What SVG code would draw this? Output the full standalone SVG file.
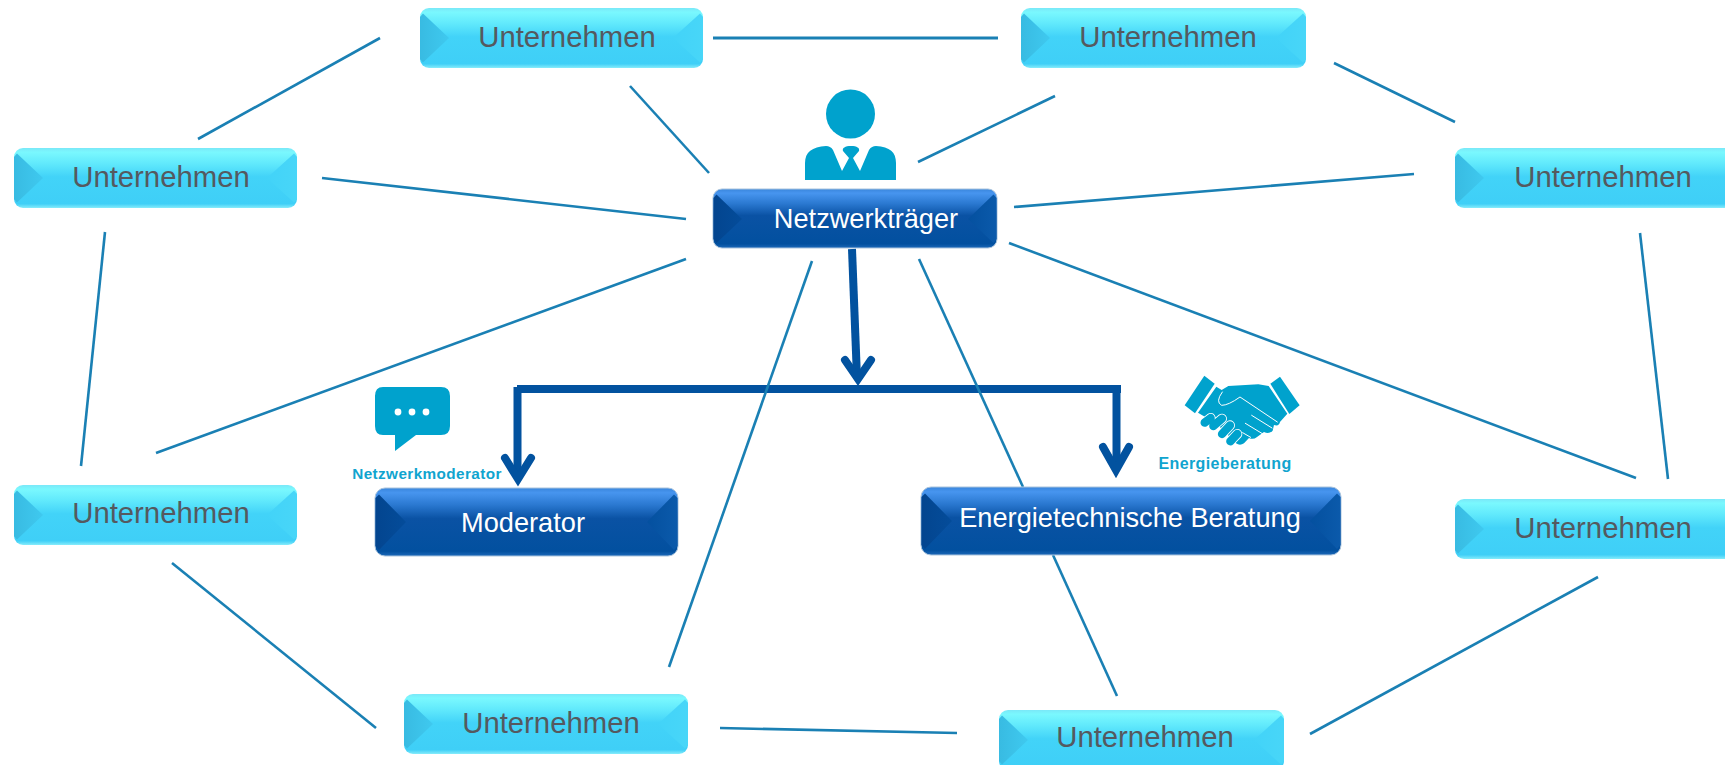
<svg xmlns="http://www.w3.org/2000/svg" width="1725" height="765" viewBox="0 0 1725 765">
<style>
text{font-family:"Liberation Sans",Arial,sans-serif;text-anchor:middle}
.ul{font-size:29.300px;fill:#55595f}
.wl{font-size:27.200px;fill:#fff}
.cap{font-weight:700;fill:#10a4cf}
.c{stroke:#1a80b4;stroke-width:2.600;fill:none}
.t{stroke:#02529f;stroke-width:8;fill:none}
.h{stroke:#02529f;stroke-width:8;stroke-linecap:round;stroke-linejoin:miter;stroke-miterlimit:6;fill:none}
.ic{fill:#00a2cd}
.bl{fill:url(#bl)}
.br{fill:url(#br)}
.dl{fill:url(#dl)}
.dr{fill:url(#dr)}
.lb{fill:url(#lt)}
.db{fill:url(#dk);stroke:#a9c3dc;stroke-width:1}
</style>
<defs>
<linearGradient id="lt" x1="0" y1="0" x2="0" y2="1"><stop offset="0" stop-color="#7ae8f8"/><stop offset=".07" stop-color="#7af8fe"/><stop offset=".25" stop-color="#62eafc"/><stop offset=".48" stop-color="#42d3f8"/><stop offset=".93" stop-color="#3fcff7"/><stop offset="1" stop-color="#86ecfb"/></linearGradient>
<linearGradient id="dk" x1="0" y1="0" x2="0" y2="1"><stop offset="0" stop-color="#3a86dc"/><stop offset=".07" stop-color="#4795ef"/><stop offset=".25" stop-color="#2a78d0"/><stop offset=".45" stop-color="#0a52a4"/><stop offset=".93" stop-color="#02509f"/><stop offset="1" stop-color="#1c68b8"/></linearGradient>
<linearGradient id="bl" x1="0" y1="0" x2="1" y2="0"><stop offset="0" stop-color="#38bbe2"/><stop offset="1" stop-color="#3fc9ef"/></linearGradient>
<linearGradient id="br" x1="0" y1="0" x2="1" y2="0"><stop offset="0" stop-color="#42d3f8"/><stop offset="1" stop-color="#48d6f8"/></linearGradient>
<linearGradient id="dl" x1="0" y1="0" x2="1" y2="0"><stop offset="0" stop-color="#03458f"/><stop offset="1" stop-color="#044c9a"/></linearGradient>
<linearGradient id="dr" x1="0" y1="0" x2="1" y2="0"><stop offset="0" stop-color="#04509f"/><stop offset="1" stop-color="#0b5aab"/></linearGradient>
</defs>
<g id="connectors">
<path class="t" d="M852 249L857 378"/>
<path class="t" d="M517 389H1121"/>
<path class="t" d="M517.500 387V478"/>
<path class="t" d="M1116.500 389V468"/>
<path class="h" d="M845 360L858 379L871 360"/>
<path class="h" d="M505 458L518 479L531 458"/>
<path class="h" d="M1103 447L1116 470L1129 447"/>
<line class="c" x1="713" y1="38" x2="998" y2="38" style="stroke-width:3"/>
<line class="c" x1="380" y1="38" x2="198" y2="139"/>
<line class="c" x1="630" y1="86" x2="709" y2="173"/>
<line class="c" x1="1055" y1="96" x2="918" y2="162"/>
<line class="c" x1="1334" y1="63" x2="1455" y2="122"/>
<line class="c" x1="322" y1="178" x2="686" y2="219"/>
<line class="c" x1="1014" y1="207" x2="1414" y2="174"/>
<line class="c" x1="105" y1="232" x2="81" y2="466"/>
<line class="c" x1="1640" y1="233" x2="1668" y2="479"/>
<line class="c" x1="686" y1="259" x2="156" y2="453"/>
<line class="c" x1="1009" y1="243" x2="1636" y2="478"/>
<line class="c" x1="812" y1="261" x2="669" y2="667"/>
<line class="c" x1="919" y1="259" x2="1023" y2="487"/>
<line class="c" x1="1053" y1="555" x2="1117" y2="696"/>
<line class="c" x1="172" y1="563" x2="376" y2="728"/>
<line class="c" x1="720" y1="728" x2="957" y2="733"/>
<line class="c" x1="1310" y1="734" x2="1598" y2="577"/>
</g>
<g id="u1"><rect class="lb" x="420" y="8" width="283" height="60" rx="9"/><path class="bl" d="M420 17L423 13.500L449 38L423 62.500L420 59Z"/><path class="br" d="M703 17L700 13.500L673 38L700 62.500L703 59Z"/><text class="ul" x="567" y="47">Unternehmen</text></g>
<g id="u2"><rect class="lb" x="1021" y="8" width="285" height="60" rx="9"/><path class="bl" d="M1021 17L1024 13.500L1050 38L1024 62.500L1021 59Z"/><path class="br" d="M1306 17L1303 13.500L1276 38L1303 62.500L1306 59Z"/><text class="ul" x="1168" y="47">Unternehmen</text></g>
<g id="u3"><rect class="lb" x="14" y="148" width="283" height="60" rx="9"/><path class="bl" d="M14 157L17 153.500L43 178L17 202.500L14 199Z"/><path class="br" d="M297 157L294 153.500L267 178L294 202.500L297 199Z"/><text class="ul" x="161" y="187">Unternehmen</text></g>
<g id="u4"><rect class="lb" x="1455" y="148" width="285" height="60" rx="9"/><path class="bl" d="M1455 157L1458 153.500L1484 178L1458 202.500L1455 199Z"/><text class="ul" x="1603" y="187">Unternehmen</text></g>
<g id="u5"><rect class="lb" x="14" y="485" width="283" height="60" rx="9"/><path class="bl" d="M14 494L17 490.500L43 515L17 539.500L14 536Z"/><path class="br" d="M297 494L294 490.500L267 515L294 539.500L297 536Z"/><text class="ul" x="161" y="523">Unternehmen</text></g>
<g id="u6"><rect class="lb" x="1455" y="499" width="285" height="60" rx="9"/><path class="bl" d="M1455 508L1458 504.500L1484 529L1458 553.500L1455 550Z"/><text class="ul" x="1603" y="538">Unternehmen</text></g>
<g id="u7"><rect class="lb" x="404" y="694" width="284" height="60" rx="9"/><path class="bl" d="M404 703L407 699.500L433 724L407 748.500L404 745Z"/><path class="br" d="M688 703L685 699.500L658 724L685 748.500L688 745Z"/><text class="ul" x="551" y="733">Unternehmen</text></g>
<g id="u8"><rect class="lb" x="999" y="710" width="285" height="60" rx="9"/><path class="bl" d="M999 719L1002 715.500L1028 740L1002 764.500L999 761Z"/><path class="br" d="M1284 719L1281 715.500L1254 740L1281 764.500L1284 761Z"/><text class="ul" x="1145" y="747">Unternehmen</text></g>
<g id="netzwerktraeger"><rect class="db" x="713" y="189" width="284" height="59" rx="9"/><path class="dl" d="M713.500 198L716.500 194.500L742 219L716.500 243L713.500 239Z"/><path class="dr" d="M996.500 198L993.500 194.500L968 219L993.500 243L996.500 239Z"/><text class="wl" x="866" y="228">Netzwerkträger</text></g>
<g id="moderator"><rect class="db" x="375" y="488" width="303" height="68" rx="10"/><path class="dl" d="M375.500 498L379 494.500L406 522L379 550L375.500 546Z"/><path class="dr" d="M677.500 498L674 494.500L647 522L674 550L677.500 546Z"/><text class="wl" x="523" y="532">Moderator</text></g>
<g id="energie"><rect class="db" x="921" y="487" width="420" height="68" rx="10"/><path class="dl" d="M921.500 497L925 493.500L952 521L925 549L921.500 545Z"/><path class="dr" d="M1340.500 497L1337 493.500L1310 521L1337 549L1340.500 545Z"/><text class="wl" x="1130" y="527">Energietechnische Beratung</text></g>
<g id="icon-person"><circle class="ic" cx="850.500" cy="114" r="24.500"/><path class="ic" d="M805 180V163C805 152 812 147 826 146C829 146 831 147 833 150L842 171L849 158L843 151C842 148 845 146 851 146C857 146 860 148 859 151L853 158L860 171L869 150C871 147 873 146 876 146C890 147 896 152 896 163V180Z"/></g>
<g id="icon-chat"><path class="ic" d="M383 387H441Q450 387 450 396V426Q450 435 441 435H416L395 451V435H383Q375 435 375 426V396Q375 387 383 387Z"/><circle cx="398" cy="412" r="3.400" fill="#fff"/><circle cx="412" cy="412" r="3.400" fill="#fff"/><circle cx="426" cy="412" r="3.400" fill="#fff"/><text class="cap" x="427" y="479" font-size="15.300" letter-spacing=".4">Netzwerkmoderator</text></g>
<g id="icon-handshake"><g transform="translate(1180 372) scale(.3333)">
<path class="ic" d="M14 100L73 11L104 35L45 124Z"/>
<path class="ic" d="M271 35L300 14L359 100L328 126Z"/>
<path class="ic" d="M54 122L109 44L125 54L145 42L235 37L266 42L322 125L300 150Q297 164 282 159L278 176Q267 188 252 180L230 196Q220 204 207 198L192 214Q180 222 168 214L110 155Z"/>
<g fill="none" stroke="#fff" stroke-width="3" stroke-linecap="round">
<path d="M127 60Q105 90 125 100Q145 100 180 75L292 150"/>
<path d="M215 130L276 168"/>
<path d="M196 154L252 188"/>
<path d="M188 182L212 196"/>
</g>
<g fill="none" stroke-linecap="round">
<path d="M74 152L92 138M100 162L126 140M126 186L150 160M151 208L172 186" stroke="#fff" stroke-width="30"/>
<path d="M74 152L92 138M100 162L126 140M126 186L150 160M151 208L172 186" stroke="#00a2cd" stroke-width="25"/>
</g>
</g><text class="cap" x="1225" y="469" font-size="16" letter-spacing=".4">Energieberatung</text></g>
</svg>
